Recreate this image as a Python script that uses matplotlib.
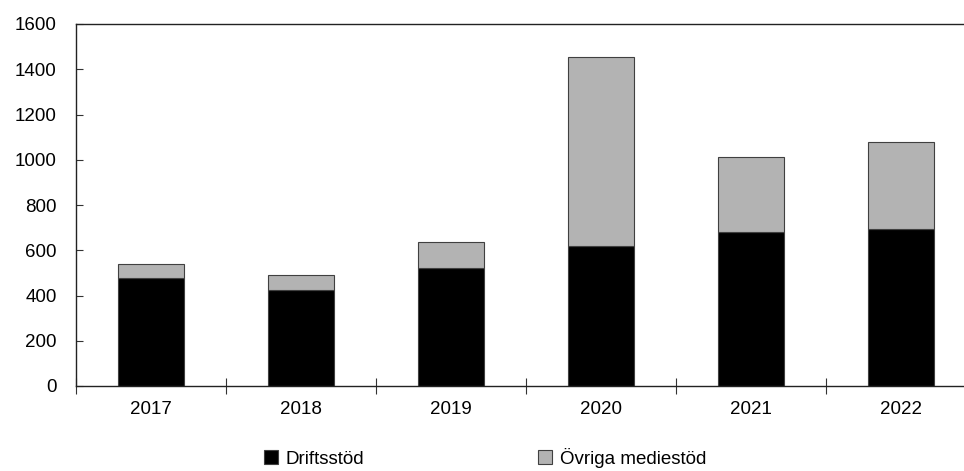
import numpy as np
import matplotlib
matplotlib.use("Agg")
import matplotlib.pyplot as plt

years = ["2017", "2018", "2019", "2020", "2021", "2022"]
driftsstod = [476, 424, 520, 620, 679, 694]
ovriga = [64, 68, 118, 836, 331, 386]

plt.rcParams['font.family'] = ['Liberation Sans', 'DejaVu Sans']
plt.rcParams['font.size'] = 13.5

fig = plt.figure(figsize=(9.64, 4.71), dpi=100)
ax = fig.add_axes([76/964, 1-386/471, 900/964, 362/471])

x = np.arange(len(years))
w = 0.44
edge = '#404040'
ax.bar(x, driftsstod, w, color='black', edgecolor=edge, linewidth=0.8, label='Driftsstöd')
ax.bar(x, ovriga, w, bottom=driftsstod, color='#b3b3b3', edgecolor=edge, linewidth=0.8,
       label='Övriga mediestöd')

ax.set_xlim(-0.5, len(years)-0.5)
ax.set_ylim(0, 1600)
ax.set_yticks(range(0, 1601, 200))
ax.set_xticks(x)
ax.set_xticklabels(years)
ax.set_xticks(np.arange(-0.5, len(years), 1.0), minor=True)
ax.tick_params(axis='x', which='major', length=0, pad=11)
ax.tick_params(axis='x', which='minor', direction='inout', length=11, width=0.8, color='#333333')
ax.tick_params(axis='y', direction='in', length=5, width=0.8, pad=14, color='#333333')
ax.spines['right'].set_visible(False)
for s in ['left', 'bottom', 'top']:
    ax.spines[s].set_linewidth(1.0)
    ax.spines[s].set_color('#222222')

fig.legend(loc='center', bbox_to_anchor=(0.503, 0.028), ncol=2, frameon=False,
           handlelength=0.75, handleheight=0.75, handletextpad=0.4, columnspacing=9.3,
           borderpad=0, borderaxespad=0)

fig.savefig('out.png', dpi=100)
